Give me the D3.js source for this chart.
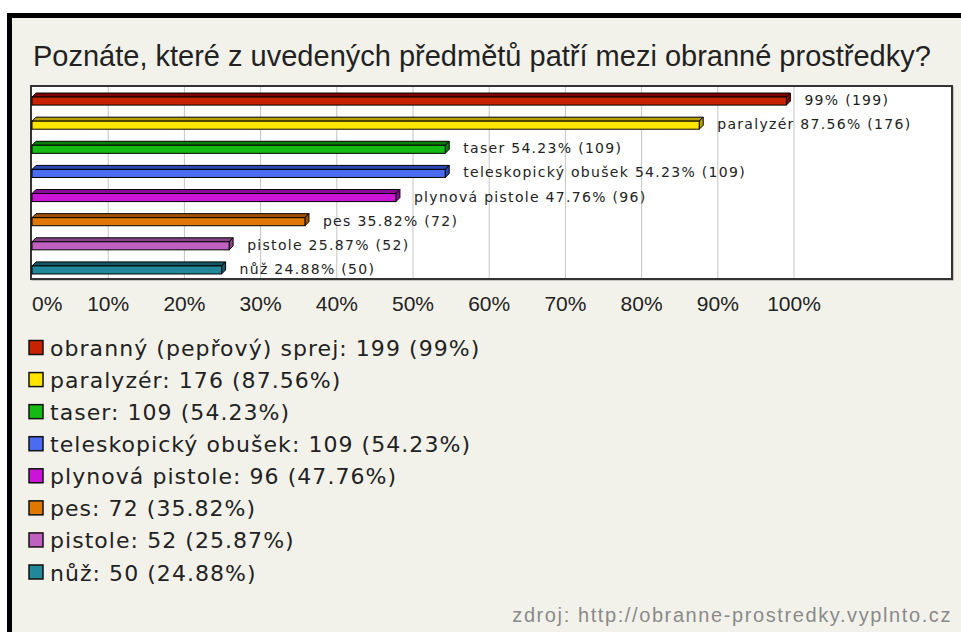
<!DOCTYPE html>
<html lang="cs">
<head>
<meta charset="UTF-8">
<script src="https://d3js.org/d3.v7.min.js"></script>
<style>
    body { margin: 0; background: #fff; }
    svg { display: block; }
    .title { font-family: "Liberation Sans", Arial, sans-serif; font-size: 29px; fill: #222; }
    .tick-label { font-family: "Liberation Sans", Arial, sans-serif; font-size: 21px; fill: #222; }
    .bar-label { font-family: "DejaVu Sans", sans-serif; font-size: 14px; fill: #222; letter-spacing: 1.3px; }
    .legend text { font-family: "DejaVu Sans", sans-serif; font-size: 22px; fill: #222; letter-spacing: 1.05px; }
    .source { font-family: "Liberation Sans", Arial, sans-serif; font-size: 20px; fill: #8a8a8a; letter-spacing: 1.6px; }
</style>
</head>
<body>
<svg id="chart" width="961" height="632"></svg>
<script>
    // data
    const categories = ["obranný (pepřový) sprej", "paralyzér", "taser", "teleskopický obušek",
                        "plynová pistole", "pes", "pistole", "nůž"];
    const barNames = ["", "paralyzér", "taser", "teleskopický obušek",
                      "plynová pistole", "pes", "pistole", "nůž"];
    const counts = [199, 176, 109, 109, 96, 72, 52, 50];
    const percents = [99, 87.56, 54.23, 54.23, 47.76, 35.82, 25.87, 24.88];
    const frontColors = ["#c82200", "#ffe400", "#14bb14", "#4a6cf0", "#cc14d8", "#e07800", "#c060c0", "#228899"];
    const topColors = ["#800000", "#b8a000", "#0a800a", "#2a48b0", "#8a0a96", "#a05200", "#884488", "#135a66"];
    const xTicks = [0, 10, 20, 30, 40, 50, 60, 70, 80, 90, 100];
    const titleText = "Poznáte, které z uvedených předmětů patří mezi obranné prostředky?";
    const sourceText = "zdroj: http://obranne-prostredky.vyplnto.cz";

    const svg = d3.select("#chart");
    const plot = { left: 31, top: 86, right: 952, bottom: 279 };

    // outer frame
    svg.append("rect").attr("x", 7).attr("y", 13).attr("width", 970).attr("height", 640).attr("fill", "#000");
    svg.append("rect").attr("x", 12).attr("y", 18).attr("width", 960).attr("height", 630).attr("fill", "#f3f2ea");

    svg.append("text").attr("class", "title").attr("x", 33).attr("y", 66).text(titleText);

    // plot area
    svg.append("rect")
        .attr("x", plot.left + 1).attr("y", plot.top + 1)
        .attr("width", plot.right - plot.left).attr("height", plot.bottom - plot.top)
        .attr("fill", "none").attr("stroke", "#999").attr("stroke-width", 1);
    svg.append("rect")
        .attr("x", plot.left).attr("y", plot.top)
        .attr("width", plot.right - plot.left).attr("height", plot.bottom - plot.top)
        .attr("fill", "#fff").attr("stroke", "#333").attr("stroke-width", 2);

    const x = d3.scaleLinear().domain([0, 100]).range([32, 794]);
    const y = d3.scaleBand().domain(categories).range([plot.top + 1, plot.bottom + 1])
        .paddingInner(0.5).paddingOuter(0.25);
    const depth = 4;
    const bw = y.bandwidth();

    // gridlines
    svg.append("g").selectAll("line").data(xTicks.slice(1)).enter().append("line")
        .attr("x1", d => x(d)).attr("x2", d => x(d))
        .attr("y1", plot.top + 1).attr("y2", plot.bottom - 1)
        .attr("stroke", "#c4c4c4").attr("stroke-width", 1);

    // tick labels (first one starts at the axis, the rest are centred)
    svg.append("g").selectAll("text").data(xTicks).enter().append("text")
        .attr("class", "tick-label")
        .attr("x", d => x(d))
        .attr("text-anchor", d => d === 0 ? "start" : "middle")
        .attr("y", 311)
        .text(d => d + "%");

    // 3d bars
    const bars = svg.append("g").selectAll("g").data(categories).enter().append("g");
    bars.each(function(c, i) {
        const g = d3.select(this);
        const x0 = x(0), x1 = x(percents[i]);
        const fy = y(c) + depth, fh = bw - depth;
        g.append("polygon")
            .attr("points", [[x0, fy], [x0 + depth, fy - depth], [x1 + depth, fy - depth], [x1, fy]].join(" "))
            .attr("fill", topColors[i]).attr("stroke", "#000").attr("stroke-width", 1);
        g.append("polygon")
            .attr("points", [[x1, fy], [x1 + depth, fy - depth], [x1 + depth, fy + fh - depth], [x1, fy + fh]].join(" "))
            .attr("fill", topColors[i]).attr("stroke", "#000").attr("stroke-width", 1);
        g.append("rect")
            .attr("x", x0).attr("y", fy).attr("width", x1 - x0).attr("height", fh)
            .attr("fill", frontColors[i]).attr("stroke", "#000").attr("stroke-width", 1);
        g.append("text")
            .attr("class", "bar-label")
            .attr("x", x1 + depth + 14)
            .attr("y", fy + fh / 2 - 1)
            .attr("dy", "0.36em")
            .text((barNames[i] ? barNames[i] + " " : "") + percents[i] + "% (" + counts[i] + ")");
    });

    // legend
    const legend = svg.append("g").attr("class", "legend");
    const rowY = d3.scaleLinear().domain([0, 7]).range([348, 572.5]);
    categories.forEach((c, i) => {
        legend.append("rect")
            .attr("x", 29).attr("y", rowY(i) - 7.5).attr("width", 14).attr("height", 14)
            .attr("fill", frontColors[i]).attr("stroke", "#111").attr("stroke-width", 1.5);
        legend.append("text")
            .attr("x", 50).attr("y", rowY(i) + 8)
            .text(c + ": " + counts[i] + " (" + percents[i] + "%)");
    });

    svg.append("text").attr("class", "source")
        .attr("x", 952).attr("y", 622).attr("text-anchor", "end")
        .text(sourceText);
</script>
</body>
</html>
